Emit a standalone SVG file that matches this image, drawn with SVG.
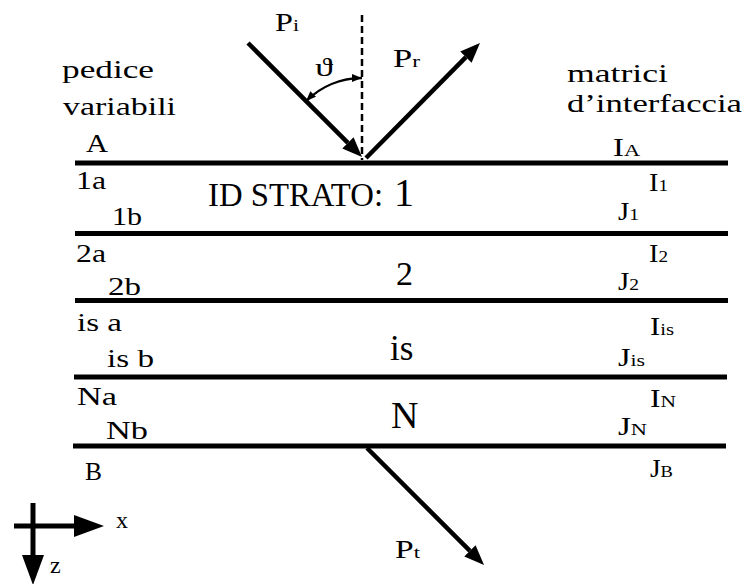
<svg xmlns="http://www.w3.org/2000/svg" width="745" height="584" viewBox="0 0 745 584">
<defs>
<style>
text{font-family:"Liberation Serif","DejaVu Serif",serif;fill:#000}
.lbl{font-size:25px}
.hd{font-size:26px}
.sub{font-size:17px}
.iface{stroke:#000;stroke-width:5;fill:none}
.ray{stroke:#000;stroke-width:4.5;fill:none;marker-end:url(#ah)}
.axis{stroke:#000;stroke-width:5;fill:none}
</style>
<marker id="ah" markerUnits="userSpaceOnUse" markerWidth="20" markerHeight="16" refX="0" refY="8" orient="auto" viewBox="0 0 20 16">
<path d="M0,0 L20,8 L0,16 z" fill="#000"/>
</marker>
<marker id="axh" markerUnits="userSpaceOnUse" markerWidth="30" markerHeight="22" refX="0" refY="11" orient="auto" viewBox="0 0 30 22">
<path d="M0,0 L30,11 L0,22 z" fill="#000"/>
</marker>
<marker id="sh" markerUnits="userSpaceOnUse" markerWidth="10" markerHeight="8" refX="10" refY="4" orient="auto-start-reverse" viewBox="0 0 10 8">
<path d="M0,0 L10,4 L0,8 z" fill="#000"/>
</marker>
</defs>
<rect width="745" height="584" fill="#fff"/>

<g id="interfaces">
<line class="iface" x1="75" y1="163" x2="728" y2="163"/>
<line class="iface" x1="75" y1="233.5" x2="728" y2="233.5"/>
<line class="iface" x1="75" y1="300.5" x2="728" y2="300.5"/>
<line class="iface" x1="74" y1="377" x2="727" y2="377"/>
<line class="iface" x1="73" y1="446" x2="726" y2="446"/>
</g>

<g id="connectors">
<line x1="362" y1="15" x2="362" y2="160" stroke="#000" stroke-width="2.5" stroke-dasharray="7 4"/>
<line class="ray" x1="248" y1="43" x2="347.9" y2="142.9"/>
<line class="ray" x1="366" y1="158" x2="465.9" y2="57.2"/>
<line class="ray" x1="367" y1="448" x2="469.9" y2="550.9"/>
<path d="M306.1,101.1 A79,79 0 0 1 362,78" fill="none" stroke="#000" stroke-width="2.3" marker-start="url(#sh)" marker-end="url(#sh)"/>
</g>

<g id="rays-labels">
<text class="lbl" x="275" y="31" textLength="24" lengthAdjust="spacingAndGlyphs">P<tspan class="sub">i</tspan></text>
<text class="lbl" x="393" y="67" textLength="27" lengthAdjust="spacingAndGlyphs">P<tspan class="sub">r</tspan></text>
<text class="lbl" x="395" y="558" textLength="25" lengthAdjust="spacingAndGlyphs">P<tspan class="sub">t</tspan></text>
<text x="315" y="76" style="font-size:26px" textLength="18" lengthAdjust="spacingAndGlyphs">ϑ</text>
</g>

<g id="left-header">
<text class="hd" x="62" y="78" textLength="92" lengthAdjust="spacingAndGlyphs">pedice</text>
<text class="hd" x="63" y="115" textLength="113" lengthAdjust="spacingAndGlyphs">variabili</text>
</g>

<g id="right-header">
<text class="hd" x="567" y="82" textLength="101" lengthAdjust="spacingAndGlyphs">matrici</text>
<text class="hd" x="567" y="112" textLength="175" lengthAdjust="spacingAndGlyphs">d’interfaccia</text>
</g>

<g id="left-labels">
<text class="lbl" x="86" y="152" textLength="22" lengthAdjust="spacingAndGlyphs">A</text>
<text class="lbl" x="76" y="189" textLength="30" lengthAdjust="spacingAndGlyphs">1a</text>
<text class="lbl" x="112" y="225" textLength="30" lengthAdjust="spacingAndGlyphs">1b</text>
<text class="lbl" x="76" y="262" textLength="30" lengthAdjust="spacingAndGlyphs">2a</text>
<text class="lbl" x="108" y="295" textLength="33" lengthAdjust="spacingAndGlyphs">2b</text>
<text class="lbl" x="77" y="331" textLength="45" lengthAdjust="spacingAndGlyphs">is a</text>
<text class="lbl" x="107" y="367" textLength="47" lengthAdjust="spacingAndGlyphs">is b</text>
<text class="lbl" x="77" y="405" textLength="40" lengthAdjust="spacingAndGlyphs">Na</text>
<text class="lbl" x="106" y="439" textLength="42" lengthAdjust="spacingAndGlyphs">Nb</text>
<text class="lbl" x="85" y="480" textLength="17" lengthAdjust="spacingAndGlyphs">B</text>
</g>

<g id="layer-ids">
<text x="208" y="206" style="font-size:33px" textLength="175" lengthAdjust="spacingAndGlyphs">ID STRATO:</text>
<text x="394" y="206" style="font-size:40px">1</text>
<text x="396" y="285" style="font-size:34px">2</text>
<text x="390" y="360" style="font-size:35px">is</text>
<text x="391" y="428" style="font-size:38px">N</text>
</g>

<g id="right-labels">
<text class="lbl" x="613" y="156" textLength="27" lengthAdjust="spacingAndGlyphs">I<tspan class="sub">A</tspan></text>
<text class="lbl" x="649" y="191" textLength="19" lengthAdjust="spacingAndGlyphs">I<tspan class="sub">1</tspan></text>
<text class="lbl" x="618" y="220" textLength="21" lengthAdjust="spacingAndGlyphs">J<tspan class="sub">1</tspan></text>
<text class="lbl" x="649" y="262" textLength="19" lengthAdjust="spacingAndGlyphs">I<tspan class="sub">2</tspan></text>
<text class="lbl" x="618" y="290" textLength="21" lengthAdjust="spacingAndGlyphs">J<tspan class="sub">2</tspan></text>
<text class="lbl" x="650" y="335" textLength="24" lengthAdjust="spacingAndGlyphs">I<tspan class="sub">is</tspan></text>
<text class="lbl" x="618" y="366" textLength="27" lengthAdjust="spacingAndGlyphs">J<tspan class="sub">is</tspan></text>
<text class="lbl" x="650" y="407" textLength="26" lengthAdjust="spacingAndGlyphs">I<tspan class="sub">N</tspan></text>
<text class="lbl" x="618" y="435" textLength="29" lengthAdjust="spacingAndGlyphs">J<tspan class="sub">N</tspan></text>
<text class="lbl" x="650" y="477" textLength="23" lengthAdjust="spacingAndGlyphs">J<tspan class="sub">B</tspan></text>
</g>

<g id="axes">
<line class="axis" x1="14" y1="526" x2="74" y2="526" marker-end="url(#axh)"/>
<line class="axis" x1="33" y1="503" x2="33" y2="555" marker-end="url(#axh)"/>
<text x="116" y="528" style="font-size:24px">x</text>
<text x="50" y="573" style="font-size:24px">z</text>
</g>
</svg>
